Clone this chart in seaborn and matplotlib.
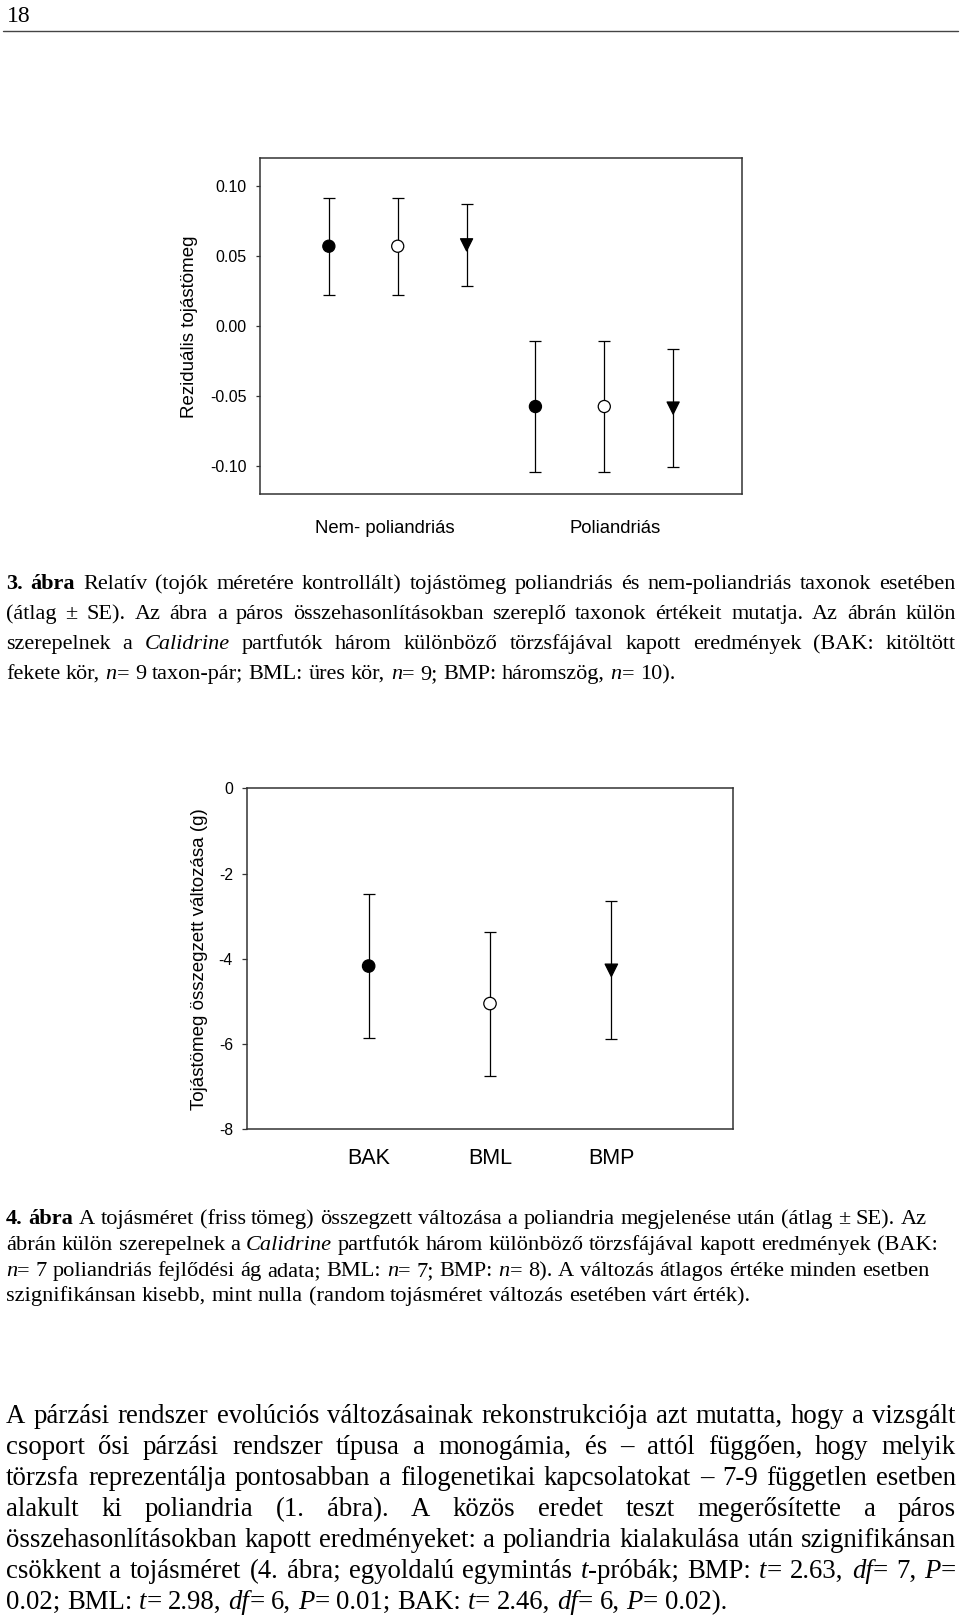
import re
import numpy as np
import pandas as pd
import matplotlib
matplotlib.use("Agg")
import matplotlib.pyplot as plt
from matplotlib.lines import Line2D
import seaborn as sns

# ---------------- data ----------------
trees = ["BAK", "BML", "BMP"]
groups = ["Nem- poliandriás", "Poliandriás"]
resid_mean_nonpoly = [0.0572, 0.0572, 0.0582]
resid_se_nonpoly = [0.0346, 0.0346, 0.0295]
resid_mean_poly = [-0.0573, -0.0573, -0.0584]
resid_se_poly = [0.0468, 0.0468, 0.0421]
resid_ticks = [-0.10, -0.05, 0.00, 0.05, 0.10]
resid_ticklabels = ["-0.10", "-0.05", "0.00", "0.05", "0.10"]

change_mean = [-4.17, -5.05, -4.27]
change_se = [1.69, 1.69, 1.62]
change_ticks = [0, -2, -4, -6, -8]
change_ticklabels = ["0", "-2", "-4", "-6", "-8"]

ylabel1 = "Reziduális tojástömeg"
ylabel2 = "Tojástömeg összegzett változása (g)"
page_number = "18"

caption3 = [
    "**3. ábra** Relatív (tojók méretére kontrollált) tojástömeg poliandriás és nem-poliandriás taxonok esetében",
    "(átlag ± SE). Az ábra a páros összehasonlításokban szereplő taxonok értékeit mutatja. Az ábrán külön",
    "szerepelnek a _Calidrine_ partfutók három különböző törzsfájával kapott eredmények (BAK: kitöltött",
    "fekete kör, _n_= 9 taxon-pár; BML: üres kör, _n_= 9; BMP: háromszög, _n_= 10).",
]
caption4 = [
    "**4. ábra** A tojásméret (friss tömeg) összegzett változása a poliandria megjelenése után (átlag ± SE). Az",
    "ábrán külön szerepelnek a _Calidrine_ partfutók három különböző törzsfájával kapott eredmények (BAK:",
    "_n_= 7 poliandriás fejlődési ág adata; BML: _n_= 7; BMP: _n_= 8). A változás átlagos értéke minden esetben",
    "szignifikánsan kisebb, mint nulla (random tojásméret változás esetében várt érték).",
]
body = [
    "A párzási rendszer evolúciós változásainak rekonstrukciója azt mutatta, hogy a vizsgált",
    "csoport ősi párzási rendszer típusa a monogámia, és – attól függően, hogy melyik",
    "törzsfa reprezentálja pontosabban a filogenetikai kapcsolatokat – 7-9 független esetben",
    "alakult ki poliandria (1. ábra). A közös eredet teszt megerősítette a páros",
    "összehasonlításokban kapott eredményeket: a poliandria kialakulása után szignifikánsan",
    "csökkent a tojásméret (4. ábra; egyoldalú egymintás _t_-próbák; BMP: _t_= 2.63, _df_= 7, _P_=",
    "0.02; BML: _t_= 2.98, _df_= 6, _P_= 0.01; BAK: _t_= 2.46, _df_= 6, _P_= 0.02).",
]

# ---------------- style ----------------
sns.set_theme(style="white")
plt.rcParams["font.family"] = ["Liberation Sans", "DejaVu Sans"]
SERIF = ["Liberation Serif", "DejaVu Serif"]
SPINE = "#333333"

W, H = 960, 1618
fig = plt.figure(figsize=(W / 100, H / 100), dpi=100)
fig.patch.set_facecolor("white")


def px_axes(l, t, r, b):
    return fig.add_axes([l / W, 1 - b / H, (r - l) / W, (b - t) / H])


palette = {"BAK": "black", "BML": "white", "BMP": "black"}
markers = {"BAK": "o", "BML": "o", "BMP": "v"}


def draw_points(ax, df, s):
    ax.errorbar(df["pos"], df["mean"], yerr=df["se"], fmt="none", ecolor="black",
                elinewidth=0.9, capsize=4.2, capthick=0.9, zorder=2)
    sns.scatterplot(data=df, x="pos", y="mean", hue="tree", style="tree",
                    palette=palette, markers=markers, s=s, edgecolor="black",
                    linewidth=0.9, legend=False, zorder=3, ax=ax)


def style_axes(ax):
    for sp in ax.spines.values():
        sp.set_visible(True)
        sp.set_color(SPINE)
        sp.set_linewidth(1.1)
    ax.set_facecolor("white")
    ax.grid(False)


# ---------------- chart 1 ----------------
df1 = pd.DataFrame({
    "tree": trees * 2,
    "group": np.repeat(groups, len(trees)),
    "mean": resid_mean_nonpoly + resid_mean_poly,
    "se": resid_se_nonpoly + resid_se_poly,
})
df1["pos"] = np.arange(1, len(df1) + 1)

ax1 = px_axes(260, 158.3, 742, 494.3)
draw_points(ax1, df1, 76)
style_axes(ax1)
ax1.set_xlim(0, len(df1) + 1)
ax1.set_ylim(-0.12, 0.12)
ax1.set_yticks(resid_ticks, resid_ticklabels)
group_label_pos = [1.81, 5.16]
ax1.set_xticks(group_label_pos, groups)
ax1.tick_params(axis="x", length=0, pad=18.5, labelsize=13.3, labelcolor="black")
ax1.tick_params(axis="y", left=True, right=False, direction="out", length=3.2,
                width=0.9, color=SPINE, pad=6.3, labelsize=11.5, labelcolor="black")
ax1.set_xlabel("")
ax1.set_ylabel(ylabel1, fontsize=13.5, va="center", color="black")
ax1.yaxis.set_label_coords((190 - 260) / 482, 0.5)

# ---------------- chart 2 ----------------
df2 = pd.DataFrame({"tree": trees, "mean": change_mean, "se": change_se})
df2["pos"] = np.arange(1, len(df2) + 1)

ax2 = px_axes(247.3, 788.3, 732.7, 1129.3)
draw_points(ax2, df2, 80)
style_axes(ax2)
ax2.set_xlim(0, len(df2) + 1)
ax2.set_ylim(-8, 0)
ax2.set_yticks(change_ticks, change_ticklabels)
ax2.set_xticks(df2["pos"], trees)
ax2.tick_params(axis="x", length=0, pad=13.5, labelsize=15.5, labelcolor="black")
ax2.tick_params(axis="y", left=True, right=False, direction="out", length=3.8,
                width=0.9, color=SPINE, pad=6.5, labelsize=11.3, labelcolor="black")
ax2.set_xlabel("")
ax2.set_ylabel(ylabel2, fontsize=13.5, va="center", color="black")
ax2.yaxis.set_label_coords((199 - 247.3) / 485.4, 0.5)

# ---------------- page text ----------------
renderer = fig.canvas.get_renderer()


def parse(line):
    pieces = []
    for m in re.finditer(r"\*\*(.+?)\*\*|_(.+?)_|([^*_]+)", line):
        if m.group(1) is not None:
            pieces.append((m.group(1), "bold", "normal"))
        elif m.group(2) is not None:
            pieces.append((m.group(2), "normal", "italic"))
        else:
            pieces.append((m.group(3), "normal", "normal"))
    words = [[]]
    for text, wt, st in pieces:
        for k, p in enumerate(text.split(" ")):
            if k > 0:
                words.append([])
            if p:
                words[-1].append((p, wt, st))
    return [w for w in words if w]


def text_width(s, size):
    t = fig.text(0, 0, s, fontsize=size, family=SERIF)
    w = t.get_window_extent(renderer).width
    t.remove()
    return w


def draw_line(line, y_px, size, x0=6, x1=956, justify=True):
    words = parse(line)
    items, widths = [], []
    for word in words:
        arts, off = [], 0.0
        for text, wt, st in word:
            t = fig.text(0, 1 - y_px / H, text, fontsize=size, fontweight=wt,
                         fontstyle=st, family=SERIF, va="baseline", ha="left",
                         color="black")
            arts.append((t, off))
            off += t.get_window_extent(renderer).width
        items.append(arts)
        widths.append(off)
    space = text_width("a a", size) - text_width("aa", size)
    if justify and len(words) > 1:
        gap = (x1 - x0 - sum(widths)) / (len(words) - 1)
    else:
        gap = space
    x = x0
    for arts, w in zip(items, widths):
        for t, off in arts:
            t.set_x((x + off) / W)
        x += w + gap


def draw_block(lines, baselines, size, justify_all_but_last=True):
    for i, (ln, y) in enumerate(zip(lines, baselines)):
        just = justify_all_but_last and i < len(lines) - 1
        draw_line(ln, y, size, justify=just)


fig.text(7 / W, 1 - 21.7 / H, page_number, fontsize=17, family=SERIF,
         va="baseline", ha="left", color="black")
fig.add_artist(Line2D([3 / W, 958 / W], [1 - 30.7 / H, 1 - 30.7 / H],
                      transform=fig.transFigure, color="#444444", lw=1.0))

draw_block(caption3, [589, 619, 649, 679], 16)
draw_block(caption4, [1224, 1250, 1276, 1301], 16.15, justify_all_but_last=False)
draw_block(body, [1423, 1454, 1485, 1516, 1547, 1578, 1609], 19.3)

fig.savefig("out.png", dpi=100, facecolor="white")
